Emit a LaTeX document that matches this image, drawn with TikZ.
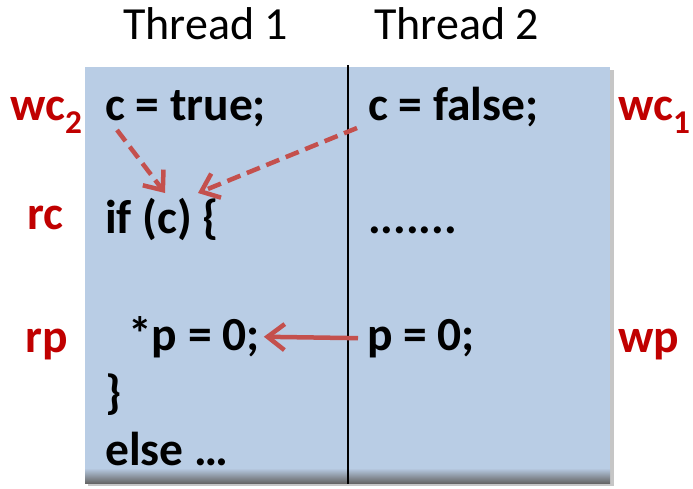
\documentclass[tikz,border=0pt]{standalone}
\usepackage{fontspec}
\setmainfont{Carlito}
\usetikzlibrary{arrows.meta,positioning}

\definecolor{panelblue}{RGB}{185,205,229}
\definecolor{labelred}{RGB}{192,0,0}
\definecolor{arrowred}{RGB}{196,80,77}

\begin{document}
\begin{tikzpicture}[
  x=1pt, y=1pt,
  code/.style={anchor=base west, inner sep=0pt,
    font=\fontsize{47.5}{57}\selectfont\bfseries},
  tag/.style={code, text=labelred},
  title/.style={anchor=base west, inner sep=0pt,
    font=\fontsize{46}{55}\selectfont},
  race/.style={-{Straight Barb[length=16pt,width=26pt]}, line width=4.5pt,
    arrowred, dash pattern=on 14pt off 7pt},
  flow/.style={-{Straight Barb[length=17pt,width=26pt]}, line width=4.5pt,
    arrowred}
]
\useasboundingbox (0,0) rectangle (693,-488);

% panel with its shadow
\fill[gray!45] (88,-70) rectangle (614,-486);
\fill[panelblue] (85,-67) rectangle (610,-480);
\shade[top color=panelblue, bottom color=gray!80!black] (85,-468) rectangle (610,-483);
\draw[line width=2.2pt] (348,-65) -- (348,-484);

% column titles
\node[title] (th1) at (123,-39) {Thread 1};
\node[title] (th2) at (374,-39) {Thread 2};

% thread 1
\node[code] (ct) at (105,-120) {c = true;};
\node[code] (ifc) at (105,-233) {if (c) \{};
\node[code, inner sep=4pt] (rdp) at (124,-350) {*p = 0;};
\node[code] (brc) at (105,-408) {\}};
\node[code] (els) at (105,-465) {else …};

% thread 2
\node[code, inner sep=4pt] (cf) at (364,-120) {c = false;};
\node[code] (dots) at (368,-233) {.......};
\node[code, inner sep=9pt] (wpz) at (358,-350) {p = 0;};

% event labels
\node[tag] (wc2) at (10,-120) {wc\textsubscript{2}};
\node[tag] (wc1) at (618,-120) {wc\textsubscript{1}};
\node[tag] (rc) at (27,-229) {rc};
\node[tag] (rp) at (25,-352) {rp};
\node[tag] (wp) at (618,-352) {wp};

% ends of the dashed arrows
\coordinate (cin) at (117,-130);
\coordinate (cout1) at (165,-193);
\coordinate (cout2) at (198,-193);
\coordinate (fin) at (357,-128);

\draw[race] (cin) -- (cout1);
\draw[race] (fin) -- (cout2);
\draw[flow] (wpz.west) -- (rdp.east);
\end{tikzpicture}
\end{document}
